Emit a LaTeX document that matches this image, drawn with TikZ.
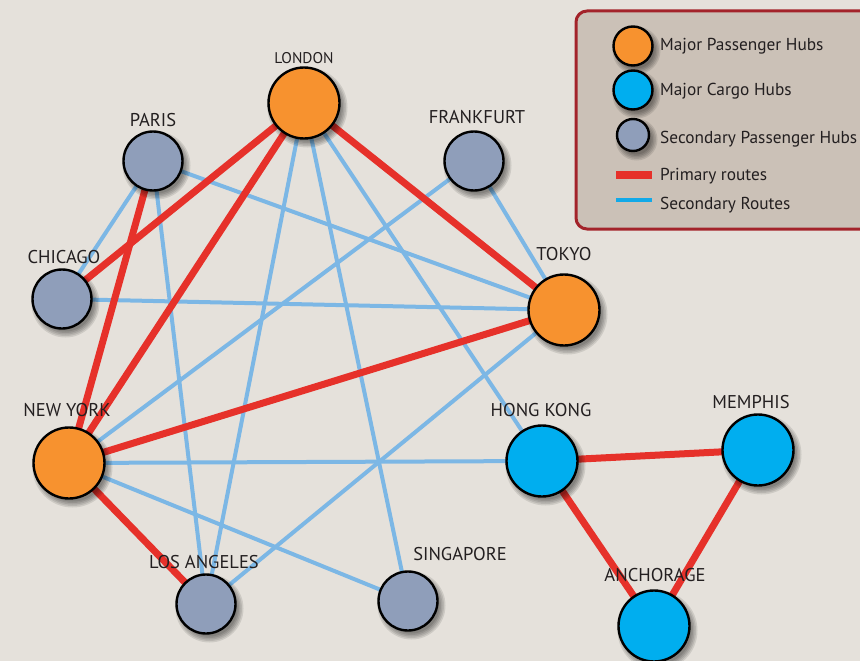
\documentclass[tikz,border=0pt]{standalone}
\usepackage{fontspec}
\setmainfont{PT Sans}

\definecolor{paper}{HTML}{E5E1DB}
\definecolor{legfill}{HTML}{CBC1B7}
\definecolor{legedge}{HTML}{A3232A}
\definecolor{hubor}{HTML}{F7922F}
\definecolor{hubcy}{HTML}{00AEEF}
\definecolor{hubsl}{HTML}{8F9EBA}
\definecolor{routered}{HTML}{E6312A}
\definecolor{routeblue}{HTML}{7CB7E5}
\definecolor{swatchblue}{HTML}{12A9E8}
\definecolor{ink}{HTML}{231F20}

\pgfdeclarelayer{back}
\pgfdeclarelayer{edges}
\pgfdeclarelayer{shade}
\pgfsetlayers{back,edges,shade,main}

% soft drop shadow below and right of a hub: #1 node name, #2 radius
\newcommand\hubshade[2]{%
  \foreach \k in {0,1.5,3,4.5,6}
    \fill[black, opacity=0.1] ([shift={(3.5,4.5)}]#1.center) circle ({#2+\k});}

\begin{document}
\begin{tikzpicture}[x=1pt,y=-1pt,
  hub/.style={circle, draw=black, line width=2.4pt, inner sep=0pt, outer sep=0pt},
  major/.style={hub, minimum size=71pt},
  minor/.style={hub, minimum size=59pt},
  pax/.style={major, fill=hubor},
  cargo/.style={major, fill=hubcy},
  sec/.style={minor, fill=hubsl},
  city/.style={font=\fontsize{18.5}{20}\selectfont, text=ink, inner sep=0pt},
  legtext/.style={font=\fontsize{17.3}{19}\selectfont, text=ink, inner sep=0pt, anchor=west},
  primary/.style={draw=routered, line width=7pt},
  secondary/.style={draw=routeblue, line width=4pt},
]
\useasboundingbox (0,0) rectangle (860,661);
\begin{pgfonlayer}{back}
  \fill[paper] (0,0) rectangle (860,661);
  % legend frame
  \draw[legedge, fill=legfill, line width=3pt, rounded corners=11pt] (576,11) rectangle (890,229);
\end{pgfonlayer}

% hubs
\node[pax]   (london)    at (304,103) {};
\node[sec]   (paris)     at (153,161) {};
\node[sec]   (frankfurt) at (474,161) {};
\node[sec]   (chicago)   at (62,299)  {};
\node[pax]   (tokyo)     at (564,310) {};
\node[pax]   (newyork)   at (69,463)  {};
\node[cargo] (hongkong)  at (542,461) {};
\node[cargo] (memphis)   at (758,450) {};
\node[sec]   (losangeles) at (206,604) {};
\node[sec]   (singapore) at (408,601) {};
\node[cargo] (anchorage) at (654,626) {};

% city names
\node[city, font=\fontsize{15.5}{17}\selectfont] (londonlbl) at (304,58) {LONDON};
\node[city] (parislbl)      at (153,120) {PARIS};
\node[city] (frankfurtlbl)  at (477,117) {FRANKFURT};
\node[city] (chicagolbl)    at (64,257)  {CHICAGO};
\node[city] (tokyolbl)      at (564,254) {TOKYO};
\node[city] (newyorklbl)    at (67,410)  {NEW YORK};
\node[city] (losangeleslbl) at (204,562) {LOS ANGELES};
\node[city] (hongkonglbl)   at (541,410) {HONG KONG};
\node[city] (memphislbl)    at (751,402) {MEMPHIS};
\node[city] (singaporelbl)  at (460,554) {SINGAPORE};
\node[city] (anchoragelbl)  at (655,575) {ANCHORAGE};

% legend entries
\node[hub, fill=hubor, minimum size=39pt] (legpax)   at (633,46)  {};
\node[hub, fill=hubcy, minimum size=39pt] (legcargo) at (633,90)  {};
\node[hub, fill=hubsl, minimum size=32pt] (legsec)   at (633,135) {};
\node[legtext] (legpaxtxt)   at (660,46)  {Major Passenger Hubs};
\node[legtext] (legcargotxt) at (660,91)  {Major Cargo Hubs};
\node[legtext] (legsectxt)   at (660,139) {Secondary Passenger Hubs};
\node[legtext] (legprimtxt)  at (660,176) {Primary routes};
\node[legtext] (legsecrtxt)  at (660,205) {Secondary Routes};
\coordinate (swA) at (616,175);
\coordinate (swB) at (652,175);
\coordinate (swC) at (616,200);
\coordinate (swD) at (652,200);
\draw[routered, line width=8pt] (swA) -- (swB);
\draw[swatchblue, line width=4.5pt] (swC) -- (swD);

% routes
\begin{pgfonlayer}{edges}
  \foreach \a/\b in {paris/chicago, paris/losangeles, paris/tokyo,
      london/losangeles, london/singapore, london/hongkong,
      frankfurt/tokyo, frankfurt/newyork, chicago/tokyo,
      newyork/hongkong, newyork/singapore, losangeles/tokyo}
    \draw[secondary] (\a.center) -- (\b.center);
  \foreach \a/\b in {london/chicago, london/newyork, london/tokyo,
      paris/newyork, newyork/tokyo, newyork/losangeles,
      hongkong/memphis, hongkong/anchorage, memphis/anchorage}
    \draw[primary] (\a.center) -- (\b.center);
\end{pgfonlayer}

% shadows of the hubs
\begin{pgfonlayer}{shade}
  \foreach \n in {london,tokyo,newyork,hongkong,memphis,anchorage}
    \hubshade{\n}{34};
  \foreach \n in {paris,frankfurt,chicago,losangeles,singapore}
    \hubshade{\n}{28};
  \foreach \n/\r in {legpax/18, legcargo/18, legsec/15}
    \hubshade{\n}{\r};
\end{pgfonlayer}
\end{tikzpicture}
\end{document}
